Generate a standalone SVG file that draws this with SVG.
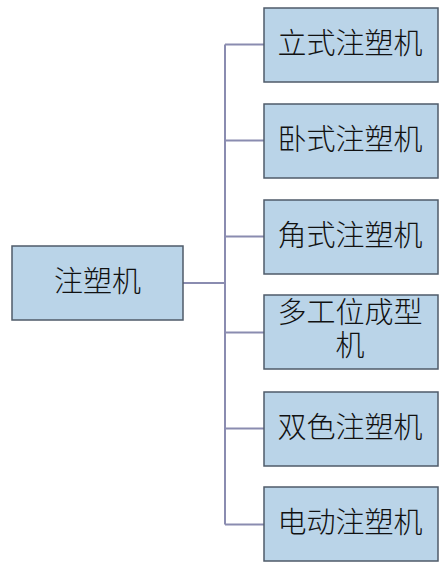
<svg xmlns="http://www.w3.org/2000/svg" width="448" height="570" viewBox="0 0 448 570">
<style>
.box{fill:#bad4e8;stroke:#4f5b69;stroke-width:1.5}
.t{font-family:"Liberation Serif","Noto Sans CJK SC",serif;font-size:29px;font-weight:300;fill:#111;text-anchor:middle;dominant-baseline:central}
.c{fill:none;stroke:#8a8cb0;stroke-width:2}
</style>
<rect width="448" height="570" fill="#fff"/>
<g id="connectors">
<path class="c" d="M183 283H225M225 44.5V524.5M225 44.5H264M225 140.5H264M225 236.5H264M225 332.5H264M225 428.5H264M225 524.5H264"/>
</g>
<g id="root"><rect class="box" x="12" y="246" width="171" height="74"/><text class="t" x="97.5" y="282">注塑机</text></g>
<g id="n1"><rect class="box" x="264" y="8" width="174" height="74"/><text class="t" x="350" y="44">立式注塑机</text></g>
<g id="n2"><rect class="box" x="264" y="104" width="174" height="74"/><text class="t" x="350" y="140">卧式注塑机</text></g>
<g id="n3"><rect class="box" x="264" y="200" width="174" height="74"/><text class="t" x="350" y="236">角式注塑机</text></g>
<g id="n4"><rect class="box" x="264" y="295" width="174" height="74"/><text class="t" x="350" y="313">多工位成型</text><text class="t" x="350" y="346">机</text></g>
<g id="n5"><rect class="box" x="264" y="392" width="174" height="74"/><text class="t" x="350" y="428">双色注塑机</text></g>
<g id="n6"><rect class="box" x="264" y="487" width="174" height="74"/><text class="t" x="350" y="523">电动注塑机</text></g>
</svg>
